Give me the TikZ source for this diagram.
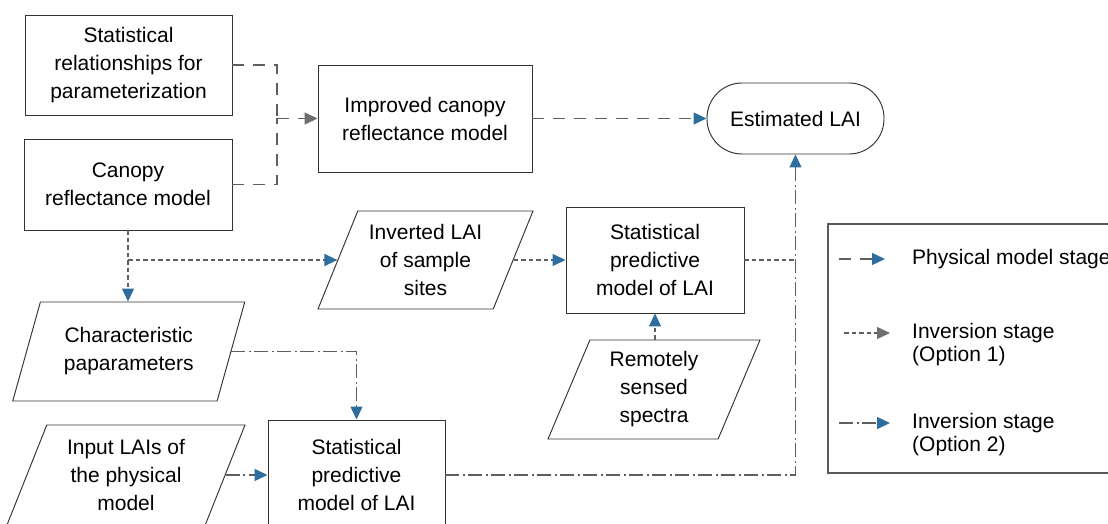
\documentclass[tikz,border=0pt]{standalone}
\usepackage{fontspec}
\setmainfont{Liberation Sans}
\usetikzlibrary{arrows.meta, shapes.geometric}

\definecolor{tipblue}{HTML}{2E6E9E}
\definecolor{tipgrey}{HTML}{6D6D72}
\definecolor{linegrey}{HTML}{5E5E5E}

\begin{document}
\begin{tikzpicture}[x=1pt, y=-1pt,
    txt/.style={font=\fontsize{21}{28}\selectfont, align=center},
    legtxt/.style={font=\fontsize{21}{23}\selectfont, align=left, inner sep=0pt},
    box/.style={txt, draw=black!80, line width=0.95pt},
    databox/.style={box, trapezium, trapezium left angle=63, trapezium right angle=117, trapezium stretches body},
    terminal/.style={box, rounded corners=35pt},
    phys/.style={draw=linegrey, line width=1.3pt, dash pattern=on 12pt off 9pt},
    invone/.style={draw=linegrey, line width=1.3pt, dash pattern=on 4.5pt off 3pt},
    invtwo/.style={draw=linegrey, line width=1.3pt, dash pattern=on 14pt off 3.5pt on 2pt off 3.5pt},
    bluetip/.style={-{Triangle[length=13pt, width=12pt, color=tipblue]}},
    greytip/.style={-{Triangle[length=13pt, width=12pt, color=tipgrey]}}]
    \useasboundingbox (0,0) rectangle (1108,524);
    \clip (0,0) rectangle (1108,524);

    % Physical model stage
    \node[box, minimum width=207pt, minimum height=100pt] (statrel) at (128.5,65) {Statistical\\relationships for\\parameterization};
    \node[box, minimum width=208pt, minimum height=91pt] (canopy) at (128,184.5) {Canopy\\reflectance model};
    \node[box, minimum width=214pt, minimum height=107pt] (improved) at (425,118.5) {Improved canopy\\reflectance model};
    \node[terminal, minimum width=177pt, minimum height=71pt] (estimated) at (795.5,118.5) {Estimated LAI};

    \coordinate (merge) at (277,118.5);
    \draw[phys] (statrel.east) -| (merge);
    \draw[phys] (canopy.east) -| (merge);
    \draw[phys, greytip] (merge) -- (improved.west);
    \draw[phys, bluetip] (improved.east) -- (estimated.west);

    % Inversion stage (option 1)
    \node[databox, minimum width=215pt, minimum height=98pt] (inverted) at (425.5,260) {Inverted LAI\\of sample\\sites};
    \node[box, minimum width=178pt, minimum height=106pt] (predmid) at (655,260) {Statistical\\predictive\\model of LAI};
    \node[databox, minimum width=212pt, minimum height=99pt] (remote) at (654,389.5) {Remotely\\sensed\\spectra};

    \coordinate (split) at (canopy.south |- inverted);
    \coordinate (join) at (estimated.south |- predmid.east);
    \draw[invone] (canopy.south) -- (split);
    \draw[invone, bluetip] (split) -- (inverted.left side);
    \draw[invone, bluetip] (inverted.right side) -- (predmid.west);
    \draw[invone] (predmid.east) -- (join);
    \draw[invone, bluetip] (remote.north -| predmid.south) -- (predmid.south);

    % Inversion stage (option 2)
    \node[databox, minimum width=232pt, minimum height=99pt] (charpar) at (128.75,351.5) {Characteristic\\paparameters};
    \node[databox, minimum width=238pt, minimum height=100pt] (inputlai) at (126,475) {Input LAIs of\\the physical\\model};
    \node[box, minimum width=177pt, minimum height=110pt] (predbot) at (356.5,475) {Statistical\\predictive\\model of LAI};

    \draw[invone, bluetip] (split) -- (split |- charpar.north);
    \draw[invtwo, bluetip] (charpar.right side) -| (predbot.north);
    \draw[invtwo, bluetip] (inputlai.right side) -- (predbot.west);
    \draw[invtwo, bluetip] (predbot.east) -| (estimated.south);

    % Legend
    \node[draw=black!65, line width=1.2pt, minimum width=292pt, minimum height=249pt] (legend) at (974,348.5) {};
    \coordinate (physa) at (839,259);
    \coordinate (physb) at (885,259);
    \coordinate (invonea) at (844,333);
    \coordinate (invoneb) at (890,333);
    \coordinate (invtwoa) at (839,423);
    \coordinate (invtwob) at (890,423);
    \draw[phys, bluetip] (physa) -- (physb);
    \draw[invone, greytip] (invonea) -- (invoneb);
    \draw[invtwo, bluetip] (invtwoa) -- (invtwob);
    \node[legtxt, anchor=west] (physlabel) at (912,259) {Physical model stage};
    \node[legtxt, anchor=west] (invonelabel) at (912,344.5) {Inversion stage\\(Option 1)};
    \node[legtxt, anchor=west] (invtwolabel) at (912,434.5) {Inversion stage\\(Option 2)};
\end{tikzpicture}
\end{document}
